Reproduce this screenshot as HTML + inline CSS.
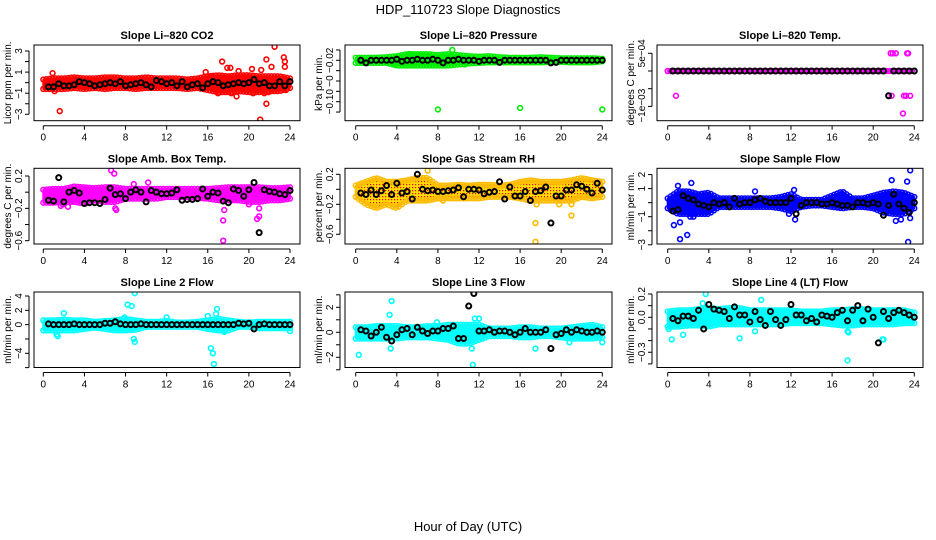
<!DOCTYPE html>
<html><head><meta charset="utf-8"><style>
html,body{margin:0;padding:0;background:#fff}
svg{display:block;font-family:"Liberation Sans",sans-serif}
</style></head><body>
<svg id="chart" width="936" height="540" viewBox="0 0 936 540" xmlns="http://www.w3.org/2000/svg">
<defs>
<pattern id="rhpat" width="3" height="3" patternUnits="userSpaceOnUse"><rect width="3" height="3" fill="#ffdd00"/><rect x="1" y="1" width="1.2" height="1.2" fill="#ff0000"/></pattern>
</defs>
<text x="468" y="14" font-size="13" text-anchor="middle">HDP_110723  Slope Diagnostics</text>
<text x="468" y="531" font-size="13" text-anchor="middle">Hour of Day (UTC)</text>
</svg>
<script>
// ---- data arrays (top level) ----
const hours = [0,1,2,3,4,5,6,7,8,9,10,11,12,13,14,15,16,17,18,19,20,21,22,23,24];
const xTicks = [0,4,8,12,16,20,24];

const co2Lo = [-0.6,-0.6,-0.6,-0.5,-0.6,-0.5,-0.6,-0.5,-0.5,-0.6,-0.5,-0.5,-0.5,-0.5,-0.6,-0.5,-0.7,-0.9,-0.9,-0.8,-0.9,-0.9,-0.8,-0.8,-0.5];
const co2Hi = [0.3,0.4,0.4,0.5,0.4,0.4,0.5,0.5,0.4,0.4,0.5,0.4,0.4,0.4,0.3,0.4,0.6,0.7,0.6,0.7,0.7,0.6,0.6,0.6,0.4];
const co2OutX = [0.9,1.6,1.1,17.4,17.9,18.2,18.8,19.0,20.3,21.1,21.2,21.7,21.7,22.2,22.5,23.4,23.5,23.5,23.6,17.0,18.3,20.4,21.5,21.9,15.8,16.3];
const co2OutY = [0.9,-2.7,-0.8,2.0,1.4,1.4,-1.3,1.1,1.3,-3.5,1.2,2.2,-2.0,1.5,3.4,2.4,2.0,1.5,-0.7,-1.0,-1.0,-1.0,-1.0,-0.9,1.0,0.6];
const co2Mean = [-0.4,-0.4,-0.1,-0.3,-0.3,-0.2,0.1,0.0,-0.1,-0.3,-0.2,-0.1,0.0,-0.1,0.1,-0.3,-0.2,-0.1,0.0,-0.2,-0.4,0.2,0.1,-0.1,0.0,-0.3,0.1,-0.4,-0.2,-0.1,-0.5,-0.1,0.1,0.0,-0.3,-0.2,-0.1,0.0,-0.1,0.0,0.3,-0.1,0.0,-0.3,-0.3,0.1,-0.3,0.1];

const presLo = [-0.025,-0.025,-0.025,-0.025,-0.03,-0.03,-0.03,-0.03,-0.03,-0.03,-0.028,-0.026,-0.025,-0.024,-0.024,-0.024,-0.024,-0.024,-0.024,-0.023,-0.023,-0.024,-0.024,-0.024,-0.022];
const presHi = [-0.015,-0.015,-0.015,-0.014,-0.012,-0.008,-0.008,-0.008,-0.01,-0.008,-0.01,-0.012,-0.013,-0.012,-0.014,-0.015,-0.015,-0.015,-0.014,-0.015,-0.016,-0.016,-0.016,-0.016,-0.017];
const presOutX = [8.0,16.0,24.0,9.4,5.2,3.8,10.6];
const presOutY = [-0.115,-0.112,-0.115,0.0,-0.008,-0.028,-0.028];
const presMean = [-0.02,-0.025,-0.02,-0.02,-0.02,-0.02,-0.02,-0.018,-0.022,-0.02,-0.02,-0.018,-0.02,-0.02,-0.018,-0.02,-0.025,-0.02,-0.02,-0.018,-0.02,-0.02,-0.02,-0.022,-0.02,-0.02,-0.02,-0.024,-0.02,-0.02,-0.02,-0.02,-0.02,-0.02,-0.02,-0.02,-0.02,-0.025,-0.024,-0.02,-0.02,-0.02,-0.02,-0.02,-0.02,-0.02,-0.02,-0.02];

const tempLo = [0,0,0,0,0,0,0,0,0,0,0,0,0,0,0,0,0,0,0,0,0,0,0,0,0];
const tempHi = [0,0,0,0,0,0,0,0,0,0,0,0,0,0,0,0,0,0,0,0,0,0,0,0,0];
const tempOutX = [0.8,21.7,21.9,22.2,23.3,23.4,21.5,21.8,23.0,23.2,23.6,22.9];
const tempOutY = [-0.0007,0.0005,0.0005,0.0005,0.0005,0.0005,-0.0007,-0.0007,-0.0007,-0.0007,-0.0007,-0.0012];
const tempMean = [0,0,0,0,0,0,0,0,0,0,0,0,0,0,0,0,0,0,0,0,0,0,0,0,0,0,0,0,0,0,0,0,0,0,0,0,0,0,0,0,0,0,-0.0007,0,0,0,0,0];

const ambLo = [-0.13,-0.13,-0.12,-0.12,-0.14,-0.1,-0.12,-0.12,-0.08,-0.08,-0.08,-0.08,-0.06,-0.06,-0.06,-0.07,-0.08,-0.1,-0.1,-0.1,-0.12,-0.12,-0.1,-0.1,-0.08];
const ambHi = [0.03,0.04,0.04,0.07,0.06,0.05,0.06,0.06,0.04,0.04,0.04,0.04,0.04,0.04,0.04,0.04,0.04,0.05,0.06,0.06,0.06,0.06,0.05,0.05,0.06];
const ambOutX = [6.6,6.9,7.0,7.1,17.5,17.5,17.6,20.0,20.8,21.0,21.0,1.7,1.9,2.4,8.8,10.2];
const ambOutY = [0.27,0.23,-0.2,-0.22,-0.6,-0.35,-0.22,-0.15,-0.33,-0.2,-0.3,-0.17,-0.15,-0.18,0.1,0.12];
const ambMean = [-0.1,-0.11,0.18,-0.12,0.0,0.02,-0.01,-0.14,-0.13,-0.13,-0.14,-0.09,0.05,-0.03,-0.02,-0.08,0.0,0.03,0.0,-0.12,0.02,0.0,-0.02,-0.02,-0.01,0.03,-0.1,-0.09,-0.09,-0.08,0.04,-0.05,0.0,-0.01,-0.11,-0.13,0.04,0.02,-0.05,0.03,0.12,-0.5,0.03,0.01,0.0,-0.02,-0.03,0.02];

const rhLo = [-0.1,-0.2,-0.25,-0.2,-0.25,-0.15,-0.15,-0.15,-0.12,-0.12,-0.12,-0.12,-0.12,-0.1,-0.1,-0.1,-0.12,-0.15,-0.15,-0.15,-0.15,-0.15,-0.1,-0.12,-0.1];
const rhHi = [0.05,0.1,0.15,0.1,0.1,0.12,0.15,0.15,0.05,0.05,0.06,0.05,0.06,0.06,0.05,0.06,0.1,0.12,0.1,0.1,0.1,0.12,0.15,0.12,0.1];
const rhOutX = [17.5,17.5,17.6,21.0,21.0,7.0,19.8,8.5];
const rhOutY = [-0.7,-0.45,-0.2,-0.35,-0.2,0.25,-0.2,-0.15];
const rhMean = [-0.05,-0.07,-0.01,-0.07,-0.02,0.05,-0.07,0.08,-0.05,-0.03,-0.13,0.2,0.0,-0.02,-0.01,-0.03,-0.03,-0.02,-0.01,0.02,-0.1,0.0,0.0,-0.01,-0.06,-0.04,-0.03,0.1,-0.13,0.03,-0.09,-0.09,-0.03,-0.15,-0.03,-0.02,0.03,-0.45,-0.09,-0.09,-0.01,-0.01,0.06,0.04,0.0,-0.05,0.08,-0.01];

const smpLo = [-0.4,-0.8,-0.8,-0.8,-0.8,-0.3,-0.3,-0.3,-0.3,-0.3,-0.3,-0.4,-0.6,-0.3,-0.2,-0.2,-0.3,-0.4,-0.3,-0.3,-0.4,-0.7,-0.8,-0.8,-0.4];
const smpHi = [0.3,0.8,0.8,0.6,0.7,0.3,0.3,0.3,0.3,0.3,0.3,0.4,0.6,0.2,0.2,0.2,0.5,0.8,0.3,0.3,0.5,0.7,0.8,0.7,0.4];
const smpOutX = [1.2,1.9,0.6,1.2,2.2,2.5,2.3,1.0,23.4,23.6,23.3,23.6,21.8,22.2,22.7,12.4,12.3,8.5,11.8];
const smpOutY = [-2.6,-2.3,-1.6,-1.4,-1.0,-1.0,1.4,1.2,-2.8,2.3,1.5,-1.1,1.6,-1.3,-1.2,-1.2,0.9,0.8,-0.8];
const smpMean = [-0.6,-0.5,0.5,0.3,0.2,-0.1,-0.2,-0.3,0.0,-0.1,0.0,-0.3,0.3,-0.1,0.0,0.0,0.2,0.3,0.1,0.0,0.0,0.0,0.0,0.3,-0.8,-0.2,0.0,0.0,0.0,-0.1,-0.1,0.0,-0.1,-0.2,-0.2,-0.3,0.0,0.0,-0.1,0.0,-0.1,-0.9,-0.2,0.6,-0.1,-0.4,-0.7,0.0];

const l2Lo = [-0.8,-0.8,-0.8,-0.8,-0.6,-0.4,-0.6,-0.8,-0.8,-0.7,-0.3,-0.3,-0.3,-0.3,-0.3,-0.3,-0.6,-0.8,-0.8,-0.3,-0.3,-0.5,-0.5,-0.5,-0.5];
const l2Hi = [0.6,0.6,0.7,0.6,0.6,0.4,0.5,0.6,0.8,0.6,0.4,0.4,0.5,0.3,0.3,0.4,0.6,0.8,0.6,0.4,0.3,0.4,0.4,0.4,0.4];
const l2OutX = [8.9,8.2,8.6,8.8,8.9,2.0,1.3,1.4,16.6,16.3,16.5,16.9,16.8,16.0,24.0,12.0,7.9,17.6];
const l2OutY = [4.4,2.8,2.6,-2.0,-2.4,1.6,-1.4,-1.6,-5.5,-3.3,-4.0,2.2,1.5,1.2,-0.9,1.0,1.0,-1.0];
const l2Mean = [0.1,0.0,0.0,0.0,0.0,0.1,0.0,0.0,0.0,0.0,0.0,0.2,0.2,0.4,0.1,0.0,0.0,0.0,0.1,0.0,0.0,0.0,0.0,0.0,0.0,0.0,0.0,0.0,0.0,0.0,0.0,0.0,0.0,0.0,0.0,0.0,0.0,0.2,0.1,0.2,-0.6,0.0,0.1,0.0,0.0,0.0,0.0,0.0];

const l3Lo = [-0.5,-0.5,-0.5,-0.5,-0.5,-0.4,-0.4,-0.4,-0.5,-0.6,-0.9,-0.9,-0.6,-0.3,-0.3,-0.3,-0.4,-0.4,-0.3,-0.3,-0.4,-0.5,-0.5,-0.5,-0.4];
const l3Hi = [0.4,0.4,0.5,0.5,0.5,0.4,0.4,0.5,0.5,0.6,0.6,0.6,0.6,0.3,0.3,0.3,0.4,0.4,0.3,0.3,0.3,0.4,0.5,0.6,0.4];
const l3OutX = [0.3,3.5,3.3,3.4,11.4,11.3,17.5,24.0,7.9,12.0,11.6,20.8];
const l3OutY = [-1.8,2.5,1.4,-1.3,-2.6,-1.3,-1.3,-0.8,0.8,1.1,1.1,-0.8];
const l3Mean = [0.2,0.1,-0.3,0.0,0.4,-0.4,-0.7,-0.2,0.2,0.3,-0.2,0.4,0.1,-0.1,0.1,0.1,0.3,0.3,0.5,-0.5,-0.5,2.1,3.1,0.1,0.1,0.2,0.0,0.1,0.1,0.0,-0.2,0.0,0.3,0.0,0.0,0.0,0.2,-1.3,-0.2,-0.1,0.2,0.0,0.2,0.1,0.0,0.0,0.1,0.0];

const l4Lo = [-0.08,-0.08,-0.07,-0.07,-0.08,-0.06,-0.06,-0.06,-0.06,-0.06,-0.06,-0.06,-0.05,-0.05,-0.05,-0.05,-0.06,-0.07,-0.07,-0.06,-0.06,-0.06,-0.06,-0.05,-0.05];
const l4Hi = [0.05,0.06,0.06,0.07,0.08,0.07,0.08,0.08,0.06,0.06,0.06,0.06,0.06,0.05,0.05,0.05,0.06,0.06,0.07,0.07,0.06,0.06,0.06,0.06,0.04];
const l4OutX = [17.5,0.4,3.7,7.0,17.5,17.6,21.0,20.9,9.1,0.1,1.5,8.5,3.4];
const l4OutY = [-0.37,-0.19,0.2,-0.18,-0.12,-0.13,-0.19,-0.19,0.15,-0.1,-0.15,-0.12,0.12];
const l4Mean = [-0.01,-0.03,0.01,0.01,-0.01,0.06,-0.1,0.11,0.07,0.06,0.05,-0.01,0.09,0.02,0.02,-0.04,0.05,-0.02,-0.07,0.05,-0.02,-0.07,-0.02,0.11,0.02,0.02,-0.03,-0.01,-0.04,0.02,0.01,0.0,0.04,0.06,-0.03,0.06,0.1,-0.03,0.07,0.0,-0.22,0.05,-0.01,0.04,0.06,0.04,0.02,0.0];

// ---- layout ----
const cols = [{l:34,r:300,x0:43.3,x1:290},{l:345,r:612,x0:355.7,x1:602.3},{l:657,r:923,x0:667.7,x1:914.3}];
const rows = [{t:45,b:120.7},{t:168.3,b:244},{t:292,b:367.5}];
const panels = [
 {name:'co2',title:'Slope Li\u2013820 CO2',ylab:'Licor ppm per min.',col:0,row:0,r1:[3,51],r2:[-3,114.3],ticks:[-3,-2,-1,0,1,2,3],labs:[[3,'3'],[1,'1'],[-1,'\u22121'],[-3,'\u22123']],color:'#ff0000',lo:co2Lo,hi:co2Hi,ox:co2OutX,oy:co2OutY,mean:co2Mean},
 {name:'pressure',title:'Slope Li\u2013820 Pressure',ylab:'kPa per min.',col:1,row:0,r1:[-0.02,60.3],r2:[-0.10,101.7],ticks:[0,-0.02,-0.04,-0.06,-0.08,-0.10,-0.12],labs:[[-0.02,'\u22120.02'],[-0.06,'\u22120'],[-0.10,'\u22120.10']],color:'#00ee00',lo:presLo,hi:presHi,ox:presOutX,oy:presOutY,mean:presMean},
 {name:'temp',title:'Slope Li\u2013820 Temp.',ylab:'degrees C per min.',col:2,row:0,r1:[0,71],r2:[0.0005,53.3],ticks:[0.0005,0,-0.0005,-0.001],labs:[[0.0005,'5e\u221204'],[-0.00098,'\u22121e\u221203']],color:'#ff00ff',lo:tempLo,hi:tempHi,ox:tempOutX,oy:tempOutY,mean:tempMean},
 {name:'amb-box-temp',title:'Slope Amb. Box Temp.',ylab:'degrees C per min.',col:0,row:1,r1:[0.2,176],r2:[-0.6,240.7],ticks:[0.2,0,-0.2,-0.4,-0.6],labs:[[0.2,'0.2'],[-0.2,'\u22120.2'],[-0.6,'\u22120.6']],color:'#ff00ff',lo:ambLo,hi:ambHi,ox:ambOutX,oy:ambOutY,mean:ambMean},
 {name:'gas-stream-rh',title:'Slope Gas Stream RH',ylab:'percent per min.',col:1,row:1,r1:[0.2,174.3],r2:[-0.6,234.3],ticks:[0.2,0,-0.2,-0.4,-0.6],labs:[[0.2,'0.2'],[-0.2,'\u22120.2'],[-0.6,'\u22120.6']],color:'#ffbb00',fill:'url(#rhpat)',lo:rhLo,hi:rhHi,ox:rhOutX,oy:rhOutY,mean:rhMean},
 {name:'sample-flow',title:'Slope Sample Flow',ylab:'ml/min per min.',col:2,row:1,r1:[1,188.6],r2:[-1,216.7],ticks:[2,1,0,-1,-2,-3],labs:[[2,'2'],[1,'1'],[-1,'\u22121'],[-3,'\u22123']],color:'#0000ff',lo:smpLo,hi:smpHi,ox:smpOutX,oy:smpOutY,mean:smpMean},
 {name:'line2-flow',title:'Slope Line 2 Flow',ylab:'ml/min per min.',col:0,row:2,r1:[4,296],r2:[-4,353.3],ticks:[4,2,0,-2,-4,-6],labs:[[4,'4'],[2,'2'],[0,'0'],[-4,'\u22124']],color:'#00ffff',lo:l2Lo,hi:l2Hi,ox:l2OutX,oy:l2OutY,mean:l2Mean},
 {name:'line3-flow',title:'Slope Line 3 Flow',ylab:'ml/min per min.',col:1,row:2,r1:[2,307.3],r2:[-2,357.3],ticks:[3,2,1,0,-1,-2,-3],labs:[[2,'2'],[0,'0'],[-2,'\u22122']],color:'#00ffff',lo:l3Lo,hi:l3Hi,ox:l3OutX,oy:l3OutY,mean:l3Mean},
 {name:'line4-flow',title:'Slope Line 4 (LT) Flow',ylab:'ml/min per min.',col:2,row:2,r1:[0.2,294],r2:[0,317.3],ticks:[0.2,0.1,0,-0.1,-0.2,-0.3,-0.4],labs:[[0.2,'0.2'],[0,'0.0'],[-0.3,'\u22120.3']],color:'#00ffff',lo:l4Lo,hi:l4Hi,ox:l4OutX,oy:l4OutY,mean:l4Mean}
];

const NS='http://www.w3.org/2000/svg';
const svg=document.getElementById('chart');
function mk(tag,attrs,parent){const e=document.createElementNS(NS,tag);for(const k in attrs)e.setAttribute(k,attrs[k]);(parent||svg).appendChild(e);return e;}
function interp(arr,t){const i=Math.min(23,Math.floor(t));const f=t-i;return arr[i]*(1-f)+arr[i+1]*f;}

panels.forEach(p=>{
  const c=cols[p.col], r=rows[p.row];
  const xs=h=>c.x0+(c.x1-c.x0)*h/24;
  const k=(p.r2[1]-p.r1[1])/(p.r2[0]-p.r1[0]);
  const ys=v=>p.r1[1]+(v-p.r1[0])*k;
  const g=mk('g',{});
  
  
  const clip=mk('clipPath',{id:'clip-'+p.name},g);
  mk('rect',{x:c.l,y:r.t,width:c.r-c.l,height:r.b-r.t},clip);
  const plot=mk('g',{'clip-path':'url(#clip-'+p.name+')'},g);
  let top='',bot='';
  for(let t=0;t<=24.001;t+=0.25){top+=xs(t)+','+ys(interp(p.hi,t))+' ';}
  for(let t=24;t>=-0.001;t-=0.25){bot+=xs(t)+','+ys(interp(p.lo,t))+' ';}
  const band=mk('polygon',{points:top+bot,fill:p.fill||p.color,stroke:p.color,'stroke-width':2,'stroke-linejoin':'round'},plot);
  
  
  for(let t=0;t<=24.001;t+=0.3){
    [interp(p.hi,t),interp(p.lo,t)].forEach(v=>{
      const e=mk('circle',{cx:xs(t),cy:ys(v),r:2.4,fill:'none',stroke:p.color,'stroke-width':1.5},plot);
      
      
    });
  }
  p.ox.forEach((h,i)=>{
    const e=mk('circle',{cx:xs(h),cy:ys(p.oy[i]),r:2.4,fill:'none',stroke:p.color,'stroke-width':1.6},plot);
    
    
  });
  p.mean.forEach((v,i)=>{
    const e=mk('circle',{cx:xs(0.5*(i+1)),cy:ys(v),r:2.5,fill:'none',stroke:'#000','stroke-width':2},plot);
    
    
  });
  const box=mk('rect',{x:c.l,y:r.t,width:c.r-c.l,height:r.b-r.t,fill:'none',stroke:'#000','stroke-width':1},g);
  
  
  const tt=mk('text',{x:(c.l+c.r)/2,y:r.t-6,'font-size':11,'font-weight':'bold','text-anchor':'middle'},g);
  tt.textContent=p.title;
  
  
  const ax=r.b+5;
  mk('line',{x1:xs(0),x2:xs(24),y1:ax,y2:ax,stroke:'#000'},g);
  xTicks.forEach(h=>{
    mk('line',{x1:xs(h),x2:xs(h),y1:ax,y2:ax+4,stroke:'#000'},g);
    const tl=mk('text',{x:xs(h),y:ax+15,'font-size':10,'text-anchor':'middle'},g);
    tl.textContent=h;
    
    
  });
  const yx=c.l-5;
  const tvals=p.ticks.map(ys);
  mk('line',{x1:yx,x2:yx,y1:Math.min(...tvals),y2:Math.max(...tvals),stroke:'#000'},g);
  p.ticks.forEach(v=>mk('line',{x1:yx-4,x2:yx,y1:ys(v),y2:ys(v),stroke:'#000'},g));
  p.labs.forEach(([v,s])=>{
    const tl=mk('text',{x:0,y:0,'font-size':10,'text-anchor':'middle',transform:'translate('+(c.l-12)+','+ys(v)+') rotate(-90)'},g);
    tl.textContent=s;
    
    
  });
  const yl=mk('text',{x:0,y:0,'font-size':10,'text-anchor':'middle',transform:'translate('+(c.l-23)+','+((r.t+r.b)/2)+') rotate(-90)'},g);
  yl.textContent=p.ylab;
  
  
});
</script>
</body></html>
